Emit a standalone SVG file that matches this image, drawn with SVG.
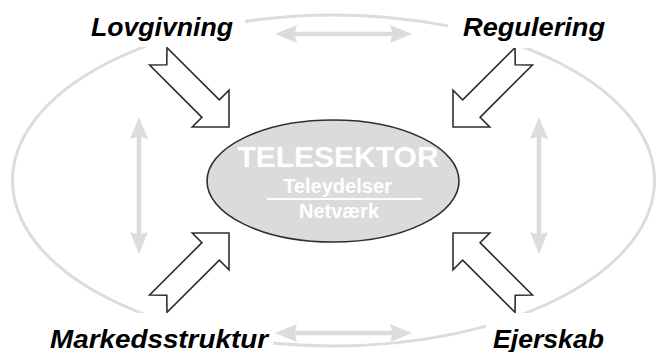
<svg xmlns="http://www.w3.org/2000/svg" width="657" height="352" viewBox="0 0 657 352">
<style>
.ring{fill:none;stroke:#dcdcdc;stroke-width:3}
.dbl{fill:#dcdcdc;stroke:none}
.blk{fill:#fff;stroke:#2e2e2e;stroke-width:1.6;stroke-linejoin:miter}
.lbl{font-family:"Liberation Sans",Arial,sans-serif;font-weight:bold;font-style:italic;font-size:25px;fill:#000}
.mask{fill:#fff}
.ctr{font-family:"Liberation Sans",Arial,sans-serif;font-weight:bold;fill:#fff;text-anchor:middle}
</style>
<defs>
<polygon id="blockArrow" points="0,0 -26,-26 -26,-12.3 -100,-12.3 -88,0 -100,12.3 -26,12.3 -26,26"/>
<polygon id="dblArrow" points="0,0 22,-9 20,-2.3 117,-2.3 115,-9 137,0 115,9 117,2.3 20,2.3 22,9"/>
</defs>
<rect width="657" height="352" fill="#fff"/>
<g id="ring">
<ellipse class="ring" cx="333.5" cy="180.5" rx="321" ry="165.5"/>
</g>
<g id="connectors">
<use href="#dblArrow" class="dbl" x="275" y="34"/>
<use href="#dblArrow" class="dbl" x="275" y="333"/>
<use href="#dblArrow" class="dbl" transform="translate(139,117) rotate(90)"/>
<use href="#dblArrow" class="dbl" transform="translate(539,117) rotate(90)"/>
<use href="#blockArrow" class="blk" transform="translate(229,127) rotate(45)"/>
<use href="#blockArrow" class="blk" transform="translate(453,127) rotate(135)"/>
<use href="#blockArrow" class="blk" transform="translate(229,233) rotate(-45)"/>
<use href="#blockArrow" class="blk" transform="translate(453,233) rotate(-135)"/>
</g>
<g id="lovgivning">
<rect class="mask" x="86" y="8" width="159" height="39"/>
<text class="lbl" x="91" y="36" textLength="142" lengthAdjust="spacingAndGlyphs">Lovgivning</text>
</g>
<g id="regulering">
<rect class="mask" x="448" y="8" width="165" height="40"/>
<text class="lbl" x="463" y="36" textLength="142" lengthAdjust="spacingAndGlyphs">Regulering</text>
</g>
<g id="markedsstruktur">
<rect class="mask" x="45" y="313" width="228" height="39"/>
<text class="lbl" x="50" y="348" textLength="218" lengthAdjust="spacingAndGlyphs">Markedsstruktur</text>
</g>
<g id="ejerskab">
<rect class="mask" x="486" y="313" width="125" height="39"/>
<text class="lbl" x="493" y="348" textLength="111" lengthAdjust="spacingAndGlyphs">Ejerskab</text>
</g>
<g id="telesektor">
<ellipse cx="333" cy="181" rx="126" ry="61" fill="#dbdbdb" stroke="#2e2e2e" stroke-width="1.6"/>
<text class="ctr" x="338" y="167" font-size="30">TELESEKTOR</text>
<text class="ctr" x="337.5" y="193" font-size="20">Teleydelser</text>
<line x1="267" y1="199" x2="422" y2="199" stroke="#fff" stroke-width="2"/>
<text class="ctr" x="339" y="218" font-size="20">Netværk</text>
</g>
</svg>
